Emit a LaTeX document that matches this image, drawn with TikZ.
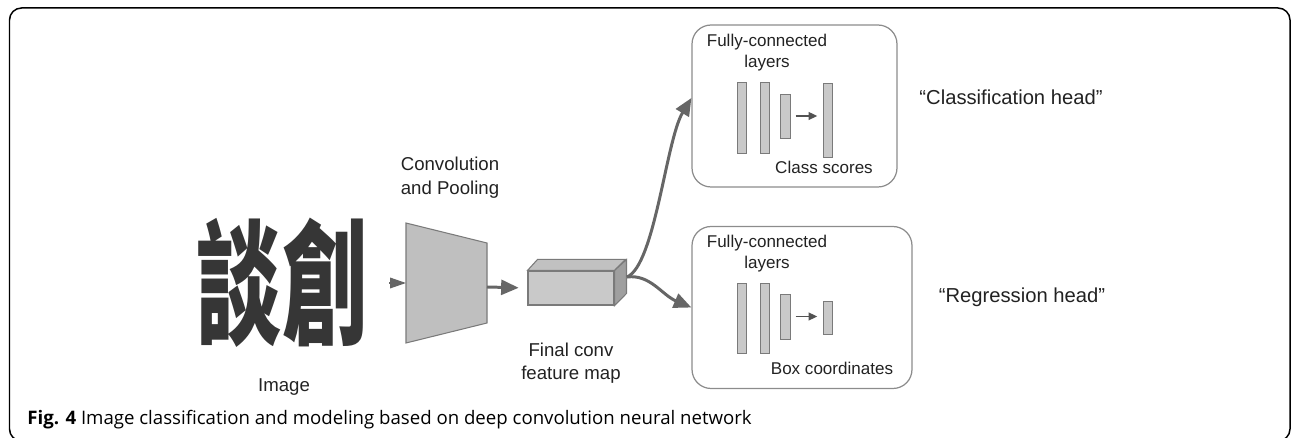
\documentclass[tikz,border=0pt]{standalone}
\usepackage{fontspec}
\setmainfont{Liberation Sans}
\newfontfamily\cjk{Noto Sans CJK TC}
\newfontfamily\capfont{Open Sans}
\usepackage{graphicx}
\usetikzlibrary{positioning,arrows.meta,calc}
\definecolor{txt}{HTML}{222222}
\definecolor{boxline}{HTML}{8C8C8C}
\definecolor{barfill}{HTML}{C9C9C9}
\definecolor{barline}{HTML}{7A7A7A}
\definecolor{arrowgray}{HTML}{666666}
\definecolor{inkgray}{HTML}{363636}

\begin{document}
\begin{tikzpicture}[
			x=0.02cm,y=-0.02cm,
			fcbox/.style={
				draw=boxline,
				rounded corners=0.38cm,
				line width=0.7pt,
				minimum height=3.24cm
			},
			bar/.style={draw=barline,fill=barfill,line width=0.5pt,minimum width=0.18cm,inner sep=0pt},
			lbl/.style={font=\fontsize{10.6}{13.5}\selectfont,align=center,text=txt},
			small/.style={font=\fontsize{9.7}{12}\selectfont,align=center,text=txt},
			head/.style={font=\fontsize{11.5}{14}\selectfont,text=txt},
			bigarrow/.style={draw=arrowgray,line width=1.7pt,-{Triangle[length=10pt,width=8.5pt]}},
			fcarrow/.style={draw=arrowgray!80!black,line width=0.9pt,-{Triangle[length=5pt,width=4.5pt]}}
			]
			
			\useasboundingbox (0,0) rectangle (1295,438);
			\clip (0,0) rectangle (1295,438);
			\draw[line width=0.85pt,rounded corners=0.24cm] (9.5,8) rectangle (1290,441);
			
			% input image
			\node[inner sep=0pt,text=inkgray,font=\cjk\bfseries\fontsize{77}{80}\selectfont] (img) at (282,283)
			{\scalebox{0.63}[1]{談創}};
			\node[lbl] (imglbl) at (284,387) {Image};
			\coordinate (imgout) at (389,283);
			
			% convolution and pooling
			\fill[barfill!95!black,draw=barline,line width=0.6pt] (406,223) -- (487,243) -- (487,323) -- (406,343) -- cycle;
			\coordinate (convin) at (406,283);
			\coordinate (convout) at (487,287);
			\node[lbl] (convlbl) at (450,178) {Convolution\\and Pooling};
			\draw[draw=arrowgray,line width=0.8pt,-{Triangle[length=9pt,width=6pt]}] (imgout)--(convin);
			
			% final conv feature map
			\node[draw=barline,fill=barfill,line width=0.6pt,minimum width=1.72cm,minimum height=0.68cm,inner sep=0pt] (fmap) at (571,288) {};
			\fill[barfill!115!white,draw=barline,line width=0.6pt] (fmap.north west) -- ++(10,-11) -- ++(88,0) -- (fmap.north east) -- cycle;
			\fill[gray!75,draw=barline,line width=0.6pt] (fmap.north east) -- ++(12,-11) -- ++(0,34) -- (fmap.south east) -- cycle;
			\coordinate (fmapout) at (627,277);
			\node[lbl,below=0.62cm of fmap] (fmaplbl) {Final conv\\feature map};
			\draw[bigarrow,shorten >=5pt] (convout)--(fmap.west);
			
			% heads
			\node[fcbox,minimum width=4.1cm] (clsbox) at (794.5,106) {};
			\node[fcbox,minimum width=4.4cm] (regbox) at (802,307.5) {};
			
			\draw[bigarrow] (fmapout) .. controls (655,265) and (666,140) .. (clsbox.west |- 0,98);
			\draw[bigarrow] (fmapout) .. controls (650,274) and (662,295) .. (regbox.west);
			
			\node[small] (clsfc) at (767,53) {Fully-connected\\layers};
			\node[bar,minimum height=1.42cm] (c1) at (741.5,117.5) {};
			\node[bar,minimum height=1.42cm] (c2) at (764.5,117.5) {};
			\node[bar,minimum height=0.88cm,minimum width=0.2cm] (c3) at (785,116) {};
			\node[bar,minimum height=1.48cm] (c4) at (827.5,120) {};
			\draw[fcarrow,shorten <=3pt,shorten >=3pt] (c3.east)--(c3.east -| c4.west);
			\node[small] (clsout) at (824,167) {Class scores};
			
			\node[small] (regfc) at (767,254) {Fully-connected\\layers};
			\node[bar,minimum height=1.4cm] (r1) at (741.5,318) {};
			\node[bar,minimum height=1.4cm] (r2) at (764.5,318) {};
			\node[bar,minimum height=0.9cm,minimum width=0.2cm] (r3) at (785,316.5) {};
			\node[bar,minimum height=0.66cm] (r4) at (827.5,317.5) {};
			\draw[fcarrow,shorten <=3pt,shorten >=3pt] (r3.east)--(r3.east -| r4.west);
			\node[small] (regout) at (832,368) {Box coordinates};
			
			\node[head] (clshead) at (1011,97) {“Classification head”};
			\node[head] (reghead) at (1022,297) {“Regression head”};
			
			% caption
			\node[anchor=west,inner sep=0pt,font=\capfont\fontsize{10.6}{12}\selectfont] (caption) at (27,420)
			{\textbf{Fig. 4} Image classification and modeling based on deep convolution neural network};
			
		\end{tikzpicture}
\end{document}
